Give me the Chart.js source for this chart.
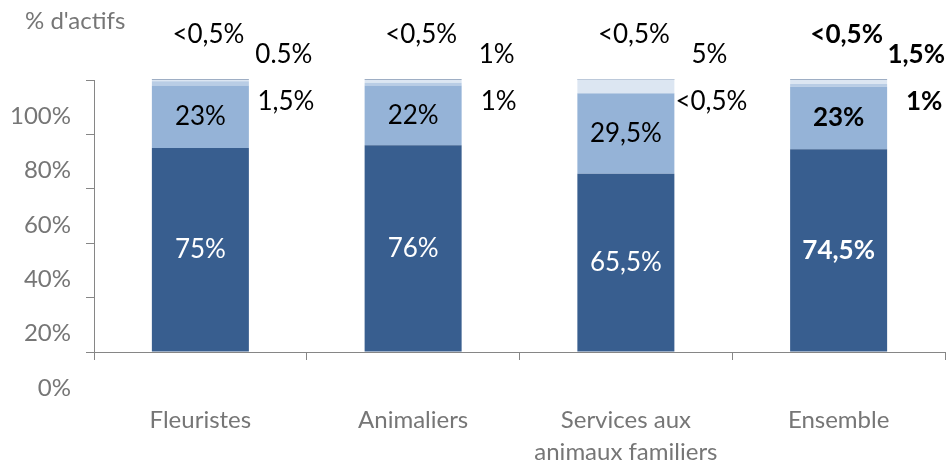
<!DOCTYPE html>
<html lang="fr">
<head>
    <meta charset="UTF-8">
    <title>Actifs par activité</title>
    <style>
        body { margin: 0; background: #fff; }
        #wrap { width: 947px; height: 465px; }
    </style>
</head>
<body>
    <div id="wrap"><canvas id="chart" width="947" height="465"></canvas></div>

    <script src="https://cdn.jsdelivr.net/npm/chart.js"></script>
    <script>
        // categories
        const categories = ['Fleuristes', 'Animaliers', ['Services aux', 'animaux familiers'], 'Ensemble'];

        // series values in % (the "<0,5%" shares are drawn as 0.2)
        const serie1 = [75, 76, 65.5, 74.5];
        const serie2 = [23, 22, 29.5, 23];
        const serie3 = [1.5, 1, 0.2, 1];
        const serie4 = [0.5, 1, 5, 1.5];
        const serie5 = [0.2, 0.2, 0.2, 0.2];

        // labels as printed on the chart
        const labels1 = ['75%', '76%', '65,5%', '74,5%'];
        const labels2 = ['23%', '22%', '29,5%', '23%'];
        const labels3 = ['1,5%', '1%', '<0,5%', '1%'];
        const labels4 = ['0.5%', '1%', '5%', '1,5%'];
        const labels5 = ['<0,5%', '<0,5%', '<0,5%', '<0,5%'];

        const yTicks = [0, 20, 40, 60, 80, 100];
        const axisTitle = "% d'actifs";

        const FONT = 'Lato, "Open Sans", sans-serif';
        const axisGrey = '#868686';
        const textGrey = '#767676';

        Chart.defaults.font.family = FONT;

        // draws the data labels and the axis title
        const labelPlugin = {
            id: 'labelPlugin',
            afterDatasetsDraw(chart) {
                const ctx = chart.ctx;
                const yScale = chart.scales.y;
                const top = yScale.getPixelForValue(100);
                const allLabels = [labels1, labels2, labels3, labels4, labels5];
                ctx.save();
                ctx.textAlign = 'center';
                ctx.textBaseline = 'middle';
                allLabels.forEach((texts, d) => {
                    const meta = chart.getDatasetMeta(d);
                    meta.data.forEach((el, i) => {
                        const bold = i === 3 ? 'bold ' : '';
                        ctx.font = bold + '26px ' + FONT;
                        ctx.fillStyle = '#000';
                        let x = el.x, y;
                        if (d === 0 || d === 1) {
                            y = (el.y + el.base) / 2;
                            if (d === 0) ctx.fillStyle = '#ffffff';
                        } else if (d === 2) {
                            x = el.x + el.width / 2 + 37;
                            y = top + 22;
                        } else if (d === 3) {
                            x = el.x + el.width / 2 + 35;
                            y = top - 25;
                        } else {
                            x = el.x + 8;
                            y = top - 45;
                        }
                        // keep the outer labels inside the canvas
                        const half = ctx.measureText(texts[i]).width / 2;
                        x = Math.min(x, chart.width - 2 - half);
                        ctx.fillText(texts[i], x, y);
                    });
                });

                ctx.font = '24px ' + FONT;
                ctx.fillStyle = textGrey;
                ctx.textAlign = 'left';
                ctx.fillText(axisTitle, 25, 21);
                ctx.restore();
            }
        };

        const ctx = document.getElementById('chart').getContext('2d');

        const mk = (label, data, color) => ({
            label: label,
            data: data,
            backgroundColor: color,
            borderWidth: 0,
            categoryPercentage: 1,
            barPercentage: 0.456,
            clip: false
        });

        const myChart = new Chart(ctx, {
            type: 'bar',
            data: {
                labels: categories,
                datasets: [
                    mk('s1', serie1, '#385E8F'),
                    mk('s2', serie2, '#95B3D7'),
                    mk('s3', serie3, '#B9CDE5'),
                    mk('s4', serie4, '#DCE6F2'),
                    mk('s5', serie5, '#3F5F8A')
                ]
            },
            options: {
                responsive: false,
                animation: false,
                layout: { padding: { top: 80, right: 2, left: 0, bottom: 0 } },
                plugins: {
                    legend: { display: false },
                    tooltip: { enabled: false }
                },
                scales: {
                    x: {
                        stacked: true,
                        afterFit: (scale) => { scale.height = 113; },
                        border: { color: axisGrey, width: 1 },
                        grid: { drawOnChartArea: false, tickLength: 8, color: axisGrey, offset: true },
                        ticks: {
                            color: textGrey,
                            padding: 44,
                            maxRotation: 0,
                            font: { size: 24, lineHeight: 1.33 }
                        }
                    },
                    y: {
                        stacked: true,
                        min: 0,
                        max: 100,
                        afterFit: (scale) => { scale.width = 94; },
                        afterBuildTicks: (scale) => { scale.ticks = yTicks.map(v => ({ value: v })); },
                        border: { color: axisGrey, width: 1 },
                        grid: { drawOnChartArea: false, tickLength: 8, color: axisGrey },
                        ticks: {
                            color: textGrey,
                            padding: 15,
                            labelOffset: 36,
                            font: { size: 24 },
                            callback: (value) => value + '%'
                        }
                    }
                }
            },
            plugins: [labelPlugin]
        });
    </script>
</body>
</html>
